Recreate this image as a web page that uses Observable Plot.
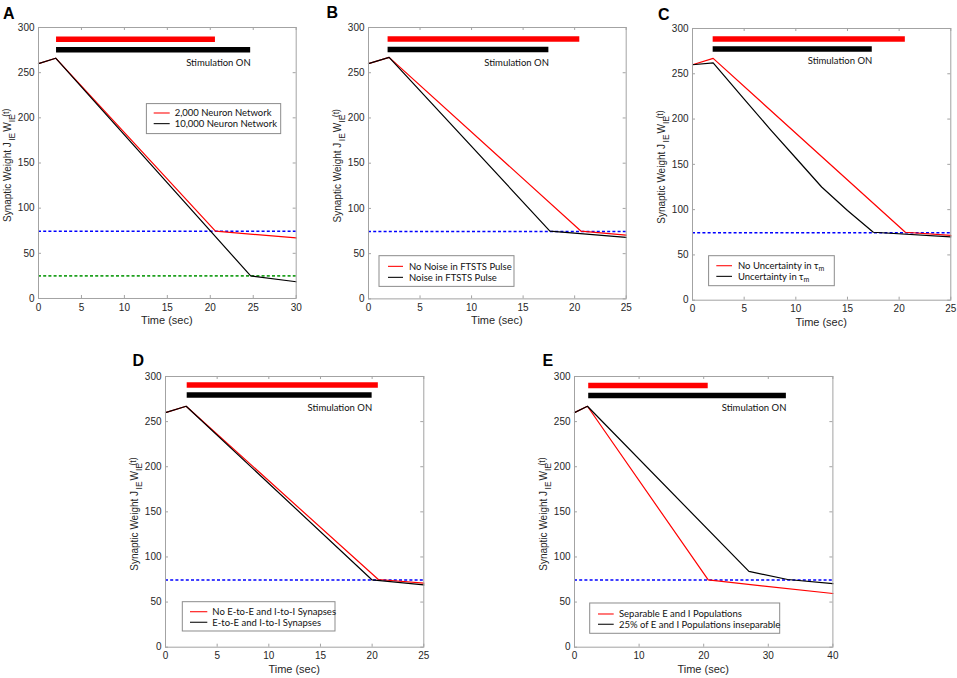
<!DOCTYPE html>
<html><head><meta charset="utf-8">
<script src="https://cdn.jsdelivr.net/npm/d3@7"></script>
<script src="https://cdn.jsdelivr.net/npm/@observablehq/plot@0.6"></script>
<style>
body{margin:0;background:#fff;}
#wrap{position:relative;width:957px;height:678px;overflow:hidden;background:#fff;}
.panel{position:absolute;}
#letters{position:absolute;left:0;top:0;pointer-events:none;}
</style></head><body><div id="wrap"></div>
<script>
// ---------- data ----------
const yTicks = [0, 50, 100, 150, 200, 250, 300];

// Panel A
const A_xTicks = [0, 5, 10, 15, 20, 25, 30];
const A_redT = [0, 2, 20.6, 30];
const A_redW = [260, 266, 74.5, 67];
const A_blackT = [0, 2, 24.7, 30];
const A_blackW = [260, 266, 25, 18.5];
const A_levels = [74.5, 25];
const A_stimRed = [2.1, 20.6];
const A_stimBlack = [2.1, 24.7];
const A_labels = ["2,000 Neuron Network", "10,000 Neuron Network"];

// Panel B
const B_xTicks = [0, 5, 10, 15, 20, 25];
const B_redT = [0, 2, 20.6, 25];
const B_redW = [260, 267, 75, 70.5];
const B_blackT = [0, 2, 17.6, 25];
const B_blackW = [260, 267, 75, 68];
const B_levels = [74.5];
const B_stimRed = [1.9, 20.5];
const B_stimBlack = [1.9, 17.5];
const B_labels = ["No Noise in FTSTS Pulse", "Noise in FTSTS Pulse"];

// Panel C
const C_xTicks = [0, 5, 10, 15, 20, 25];
const C_redT = [0, 2, 20.6, 25];
const C_redW = [260, 267, 75, 71.5];
const C_blackT = [0, 2, 5, 7.5, 10, 12.5, 15, 17.5, 25];
const C_blackW = [260, 262, 222, 189, 157, 125, 99, 75, 70];
const C_levels = [74.5];
const C_stimRed = [2, 20.6];
const C_stimBlack = [2, 17.4];
const C_labels = ["No Uncertainty in τ_m", "Uncertainty in τ_m"];

// Panel D
const D_xTicks = [0, 5, 10, 15, 20, 25];
const D_redT = [0, 2, 20.6, 25];
const D_redW = [260, 267, 75, 71];
const D_blackT = [0, 2, 20, 25];
const D_blackW = [260, 267, 74.5, 69];
const D_levels = [74.5];
const D_stimRed = [2.1, 20.6];
const D_stimBlack = [2.1, 20];
const D_labels = ["No E-to-E and I-to-I Synapses", "E-to-E and I-to-I Synapses"];

// Panel E
const E_xTicks = [0, 10, 20, 30, 40];
const E_redT = [0, 2, 20.7, 40];
const E_redW = [260, 267, 74.5, 59.5];
const E_blackT = [0, 2, 27, 33, 40];
const E_blackW = [260, 267, 84, 75, 70.5];
const E_levels = [74.5];
const E_stimRed = [2.2, 20.7];
const E_stimBlack = [2.2, 32.8];
const E_labels = ["Separable E and I Populations", "25% of E and I Populations inseparable"];

const letters = ["A", "B", "C", "D", "E"];
const levelColors = ["#0000ff", "#1fa01f"];

// ---------- layout ----------
const panels = [
  {xmax: 30, xTicks: A_xTicks, redT: A_redT, redW: A_redW, blackT: A_blackT, blackW: A_blackW, levels: A_levels,
   stimRed: A_stimRed, stimBlack: A_stimBlack, labels: A_labels,
   frame: {l: 38.3, t: 26.7, r: 296, b: 297.7}, barY: [287, 275.3], textY: 261,
   legend: {box: [146.7, 103.3, 281, 133.3], rows: [112.7, 123.3], line: [154, 170], tx: 175},
   letter: [3, 18.5]},
  {xmax: 25, xTicks: B_xTicks, redT: B_redT, redW: B_redW, blackT: B_blackT, blackW: B_blackW, levels: B_levels,
   stimRed: B_stimRed, stimBlack: B_stimBlack, labels: B_labels,
   frame: {l: 368.3, t: 27.3, r: 626, b: 298.7}, barY: [287.4, 275.7], textY: 261.3,
   legend: {box: [379.3, 256, 514.3, 286.7], rows: [266.7, 277.7], line: [388.3, 403.3], tx: 409.3},
   letter: [326.5, 18.3]},
  {xmax: 25, xTicks: C_xTicks, redT: C_redT, redW: C_redW, blackT: C_blackT, blackW: C_blackW, levels: C_levels,
   stimRed: C_stimRed, stimBlack: C_stimBlack, labels: C_labels,
   frame: {l: 691.7, t: 28.3, r: 950, b: 300}, barY: [288.5, 277.3], textY: 264,
   legend: {box: [708.3, 256, 834, 286], rows: [266, 276.7], line: [716, 731.7], tx: 737.7},
   letter: [658, 20]},
  {xmax: 25, xTicks: D_xTicks, redT: D_redT, redW: D_redW, blackT: D_blackT, blackW: D_blackW, levels: D_levels,
   stimRed: D_stimRed, stimBlack: D_stimBlack, labels: D_labels,
   frame: {l: 165, t: 376, r: 423.3, b: 646.7}, barY: [290.6, 279.6], textY: 265,
   legend: {box: [182.3, 601.7, 335, 631], rows: [611.7, 622.3], line: [190, 207.3], tx: 212.3},
   letter: [132.5, 365.7]},
  {xmax: 40, xTicks: E_xTicks, redT: E_redT, redW: E_redW, blackT: E_blackT, blackW: E_blackW, levels: E_levels,
   stimRed: E_stimRed, stimBlack: E_stimBlack, labels: E_labels,
   frame: {l: 574.3, t: 376, r: 832.7, b: 646.7}, barY: [290, 279], textY: 265,
   legend: {box: [590, 603, 780, 633.3], rows: [614, 624.3], line: [598.3, 614], tx: 619.3},
   letter: [542.5, 365.7]}
];

const mL = 40, mT = 12, mR = 6, mB = 32;
const axisFont = "'Liberation Sans', Arial, sans-serif";
const legendFont = "Lato, 'Open Sans', sans-serif";
const frameColor = "#a3a3a3";
const textColor = "#262626";
const wrap = document.getElementById("wrap");

panels.forEach((p, i) => {
  const f = p.frame;
  const W = f.r - f.l, H = f.b - f.t;
  const ox = f.l - mL, oy = f.t - mT;
  const red = p.redT.map((t, k) => ({t, w: p.redW[k]}));
  const black = p.blackT.map((t, k) => ({t, w: p.blackW[k]}));
  const bars = [
    {x1: p.stimRed[0], x2: p.stimRed[1], y: p.barY[0], c: "#ff0000"},
    {x1: p.stimBlack[0], x2: p.stimBlack[1], y: p.barY[1], c: "#000000"}
  ];
  const lv = p.levels.map((v, k) => ({v, c: levelColors[k]}));

  const svg = Plot.plot({
    width: W + mL + mR, height: H + mT + mB,
    marginLeft: mL, marginTop: mT, marginRight: mR, marginBottom: mB,
    x: {domain: [0, p.xmax]},
    y: {domain: [0, 300]},
    style: {background: "transparent", fontFamily: axisFont, fontSize: "10px", color: textColor, overflow: "visible"},
    marks: [
      Plot.axisX({ticks: p.xTicks, tickSize: 0, tickPadding: 5, label: null, fill: textColor}),
      Plot.axisY({ticks: yTicks, tickSize: 0, tickPadding: 4, label: null, fill: textColor}),
      Plot.tickX(p.xTicks, {x: d => d, insetTop: H - 3, stroke: frameColor}),
      Plot.tickX(p.xTicks, {x: d => d, insetBottom: H - 3, stroke: frameColor}),
      Plot.tickY(yTicks, {y: d => d, insetRight: W - 3, stroke: frameColor}),
      Plot.tickY(yTicks, {y: d => d, insetLeft: W - 3, stroke: frameColor}),
      Plot.ruleY(lv, {y: "v", stroke: "c", strokeWidth: 1.6, strokeDasharray: "3,2.2"}),
      Plot.line(red, {x: "t", y: "w", stroke: "#ff0000", strokeWidth: 1.2}),
      Plot.line(black, {x: "t", y: "w", stroke: "#000000", strokeWidth: 1.2}),
      Plot.ruleY(bars, {x1: "x1", x2: "x2", y: "y", stroke: "c", strokeWidth: 5.5}),
      Plot.text([{x: p.stimBlack[1], y: p.textY}], {x: "x", y: "y", text: () => "Stimulation ON",
        textAnchor: "end", fontFamily: legendFont, fontSize: 9.5, fill: "#111"}),
      Plot.frame({stroke: frameColor})
    ]
  });

  const s = d3.select(svg);
  // x label
  s.append("text").attr("x", mL + W / 2).attr("y", mT + H + 26)
    .attr("text-anchor", "middle").attr("font-family", axisFont).attr("font-size", 11)
    .attr("fill", textColor).text("Time (sec)");
  // y label with subscripts
  const yl = s.append("text").attr("transform", `translate(${mL - 26.6},${mT + H - 76}) rotate(-90)`)
    .attr("text-anchor", "start")
    .attr("font-family", axisFont).attr("font-size", 10).attr("fill", textColor);
  yl.append("tspan").text("Synaptic Weight J");
  yl.append("tspan").attr("font-size", 8.5).attr("dx", 1.5).attr("dy", 4).text("IE");
  yl.append("tspan").attr("dx", 1).attr("dy", -4).text("W");
  yl.append("tspan").attr("font-size", 8.5).attr("dy", 4).text("IE");
  yl.append("tspan").attr("font-size", 8.5).attr("dx", -2.5).attr("dy", -6.5).text("(t)");

  // legend
  const L = p.legend;
  const g = s.append("g").attr("transform", `translate(${-ox},${-oy})`).attr("text-anchor", "start");
  g.append("rect").attr("x", L.box[0]).attr("y", L.box[1])
    .attr("width", L.box[2] - L.box[0]).attr("height", L.box[3] - L.box[1])
    .attr("fill", "#fff").attr("stroke", "#8c8c8c").attr("stroke-width", 1);
  const cols = ["#ff2020", "#222"];
  p.labels.forEach((lab, k) => {
    g.append("line").attr("x1", L.line[0]).attr("x2", L.line[1])
      .attr("y1", L.rows[k]).attr("y2", L.rows[k]).attr("stroke", cols[k]).attr("stroke-width", 1.2);
    const parts = lab.split("_");
    const t = g.append("text").attr("x", L.tx).attr("y", L.rows[k] + 3.3)
      .attr("text-anchor", "start")
      .attr("font-family", legendFont).attr("font-size", 9.5).attr("fill", "#111");
    t.append("tspan").text(parts[0]);
    if (parts[1]) t.append("tspan").attr("font-size", 7).attr("dy", 2).text(parts[1]);
  });

  const div = document.createElement("div");
  div.className = "panel";
  div.style.left = ox + "px";
  div.style.top = oy + "px";
  div.appendChild(svg);
  wrap.appendChild(div);
});

// panel letters
const ov = d3.select(wrap).append("svg").attr("id", "letters").attr("width", 957).attr("height", 678);
panels.forEach((p, i) => {
  ov.append("text").attr("x", p.letter[0]).attr("y", p.letter[1])
    .attr("font-family", axisFont).attr("font-weight", "bold").attr("font-size", 16)
    .attr("fill", "#000").text(letters[i]);
});
</script></body></html>
